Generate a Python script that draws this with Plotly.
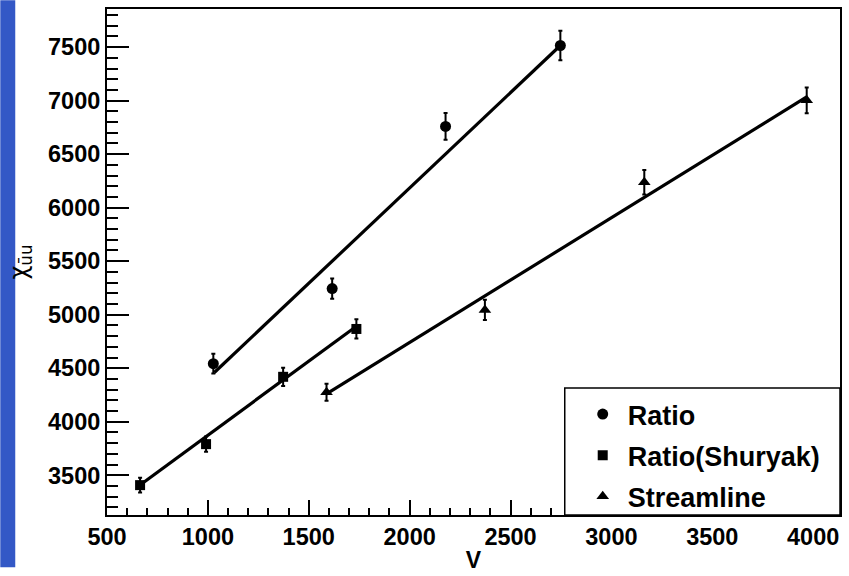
import plotly.graph_objects as go

# ---- data ----
ratio_v = [1027, 1616, 2178, 2747]
ratio_chi = [4543, 5244, 6759, 7515]
ratio_err = [92, 95, 125, 138]

shuryak_v = [664, 991, 1373, 1736]
shuryak_chi = [3408, 3791, 4420, 4867]
shuryak_err = [68, 72, 85, 90]

stream_v = [1588, 2373, 3163, 3968]
stream_chi = [4276, 5045, 6237, 7003]
stream_err = [80, 95, 115, 120]

# straight-line fits as drawn (end points)
fit_ratio_v = [1032, 2747]
fit_ratio_chi = [4460, 7515]
fit_shuryak_v = [669, 1733]
fit_shuryak_chi = [3417, 4888]
fit_stream_v = [1588, 3968]
fit_stream_chi = [4260, 7035]

x_range = [500, 4133]
y_range = [3129, 7856]

W, H = 849, 576
ML, MR, MT, MB = 107, 7, 9, 53
PW, PH = W - ML - MR, H - MT - MB

FONT = "Liberation Sans, Arial, Helvetica, sans-serif"

fig = go.Figure()

def pts(x, y, e, sym, size, name, grp):
    fig.add_trace(go.Scatter(
        x=x, y=y, mode="markers", name=name, legendgroup=grp,
        marker=dict(symbol=sym, size=size, color="black"),
        error_y=dict(type="data", array=e, visible=True, color="black",
                     thickness=2, width=2),
        hoverinfo="skip"))

def fit(x, y):
    fig.add_trace(go.Scatter(x=x, y=y, mode="lines", showlegend=False,
                             line=dict(color="black", width=3.2), hoverinfo="skip"))

fit(fit_ratio_v, fit_ratio_chi)
fit(fit_shuryak_v, fit_shuryak_chi)
fit(fit_stream_v, fit_stream_chi)
pts(ratio_v, ratio_chi, ratio_err, "circle", 11, "Ratio", "a")
pts(shuryak_v, shuryak_chi, shuryak_err, "square", 10, "Ratio(Shuryak)", "b")
pts(stream_v, stream_chi, stream_err, "triangle-up", 11, "Streamline", "c")

# legend box (pixel geometry converted to paper coordinates)
lx0, lx1, ly0, ly1 = 566, 842, 394, 523
def px(x):
    return (x - ML) / PW
def py(y):
    return 1 - (y - MT) / PH

shapes = [
    dict(type="rect", xref="paper", yref="paper", x0=px(0), x1=px(15),
         y0=py(H), y1=py(0), fillcolor="#3358c6", line=dict(width=0), layer="below"),
    dict(type="rect", xref="paper", yref="paper", x0=px(lx0), x1=px(lx1),
         y0=py(ly1), y1=py(ly0), fillcolor="white", line=dict(color="black", width=1.5),
         layer="above"),
]

fig.update_layout(
    width=W, height=H, autosize=False,
    margin=dict(l=ML, r=MR, t=MT, b=MB),
    paper_bgcolor="white", plot_bgcolor="white",
    shapes=shapes,
    showlegend=True,
    legend=dict(x=px(lx0 + 13), y=py(ly0 + 2), xanchor="left", yanchor="top",
                bgcolor="rgba(0,0,0,0)", borderwidth=0, tracegroupgap=3,
                itemwidth=40,
                font=dict(family=FONT, size=27, color="black", weight="bold")),
    xaxis=dict(range=x_range, showgrid=False, zeroline=False,
               showline=True, mirror=True, linecolor="black", linewidth=2,
               ticks="inside", ticklen=15, tickwidth=1.5, tickcolor="black",
               dtick=500, tick0=500,
               minor=dict(ticks="inside", ticklen=7, tickwidth=1.5, dtick=100,
                          tick0=500, tickcolor="black", showgrid=False),
               tickfont=dict(family=FONT, size=23.5, color="black", weight="bold"),
               title=dict(text="V", standoff=3,
                          font=dict(family=FONT, size=23, color="black", weight="bold"))),
    yaxis=dict(range=y_range, showgrid=False, zeroline=False,
               showline=True, mirror=True, linecolor="black", linewidth=2,
               ticks="inside", ticklen=22, tickwidth=1.5, tickcolor="black",
               dtick=500, tick0=500,
               minor=dict(ticks="inside", ticklen=11, tickwidth=1.5, dtick=100,
                          tick0=500, tickcolor="black", showgrid=False),
               ticklabelstandoff=0,
               tickfont=dict(family=FONT, size=23.5, color="black", weight="bold"),
               title=dict(text="χ<sub>u\u0304u</sub>", standoff=14,
                          font=dict(family="DejaVu Sans, sans-serif", size=24, color="black"))),
)

post = ("document.documentElement.style.margin='0';"
        "document.documentElement.style.overflow='hidden';"
        "document.body.style.margin='0';document.body.style.padding='0';"
        "document.body.style.overflow='hidden';"
        "var d=document.getElementById('{plot_id}');"
        "d.style.position='fixed';d.style.left='0px';d.style.top='0px';")

fig.write_html("out.html", config={"displayModeBar": False, "responsive": False},
               post_script=post)
